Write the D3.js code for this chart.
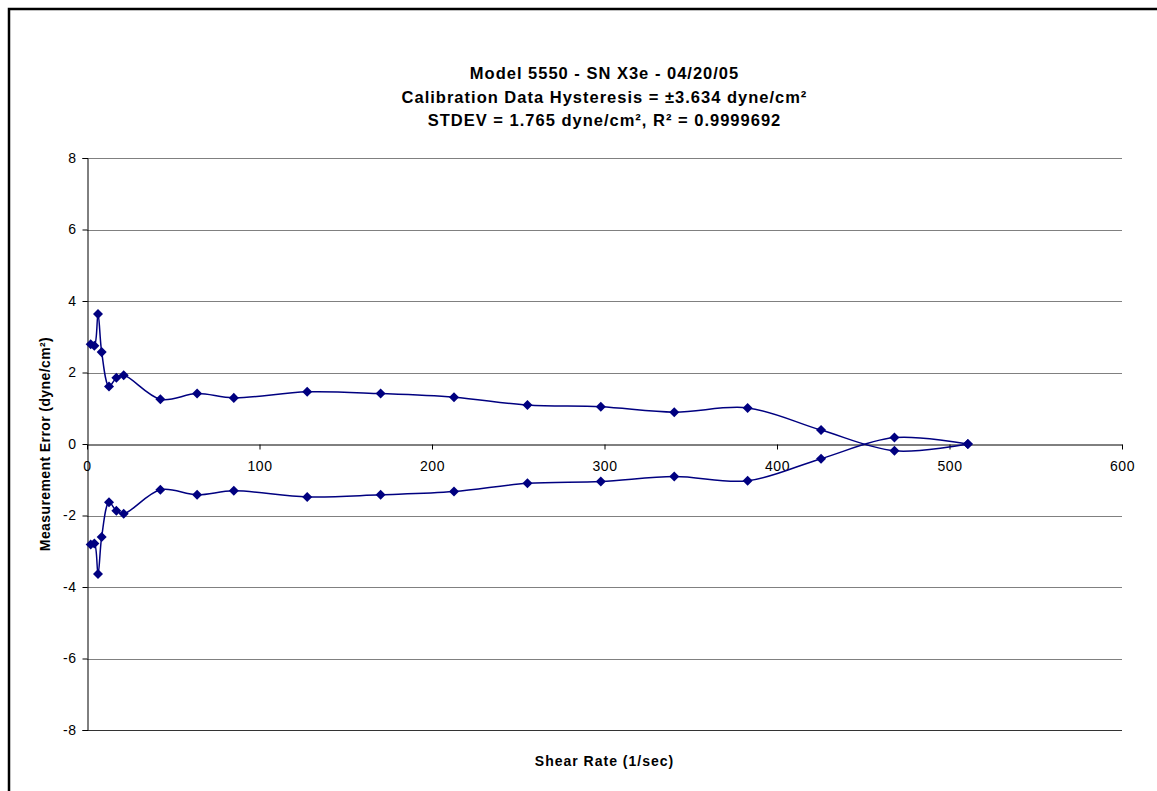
<!DOCTYPE html>
<html><head><meta charset="utf-8">
<script src="https://cdn.jsdelivr.net/npm/d3@7"></script>
<style>
body{margin:0;background:#fff;}
svg{display:block;font-family:"Liberation Sans",Arial,sans-serif;}
</style></head>
<body>
<svg id="c" width="1157" height="791"></svg>
<script>
const shearRate = [2.13, 4.26, 6.38, 8.51, 12.77, 17.02, 21.28, 42.55, 63.83, 85.11, 127.66, 170.21, 212.77, 255.32, 297.87, 340.43, 382.98, 425.53, 468.09, 510.64];
const upperError = [2.79, 2.75, 3.634, 2.57, 1.61, 1.85, 1.92, 1.25, 1.41, 1.29, 1.46, 1.41, 1.31, 1.09, 1.04, 0.89, 1.01, 0.39, -0.19, 0.0];
const lowerError = [-2.81, -2.78, -3.634, -2.60, -1.63, -1.87, -1.95, -1.28, -1.42, -1.31, -1.48, -1.42, -1.33, -1.10, -1.05, -0.91, -1.03, -0.41, 0.18, 0.0];
const xTicks = [0, 100, 200, 300, 400, 500, 600];
const yTicks = [-8, -6, -4, -2, 0, 2, 4, 6, 8];
const titleLines = ["Model 5550 - SN X3e - 04/20/05", "Calibration Data Hysteresis = \u00b13.634 dyne/cm\u00b2", "STDEV = 1.765 dyne/cm\u00b2, R\u00b2 = 0.9999692"];

const svg = d3.select("#c");
const L = 87, R = 1122, T = 158, B = 730;
const x = d3.scaleLinear().domain([0, 600]).range([L, R]);
const y = d3.scaleLinear().domain([-8, 8]).range([B, T]);
const FONT = "Liberation Sans, Arial, sans-serif";

// outer frame (left + top visible)
svg.append("path").attr("d", "M9,791 L9,9 L1157,9").attr("fill", "none").attr("stroke", "#000").attr("stroke-width", 2.5);

// gridlines
svg.append("g").selectAll("line").data(yTicks.filter(v => v !== 0)).join("line")
  .attr("x1", L).attr("x2", R).attr("y1", d => Math.round(y(d)) + 0.5).attr("y2", d => Math.round(y(d)) + 0.5)
  .attr("stroke", d => d === -8 ? "#333" : "#808080").attr("stroke-width", 1);

// y axis
const yAxis = svg.append("g").attr("transform", `translate(${L + 0.5},0)`)
  .call(d3.axisLeft(y).tickValues(yTicks).tickSize(5).tickPadding(6).tickFormat(d => String(d)));
yAxis.select(".domain").attr("stroke", "#000");
yAxis.selectAll("line").attr("stroke", "#000");
yAxis.selectAll("text").attr("font-size", 14).attr("letter-spacing", 0.5).attr("fill", "#000").attr("font-family", FONT);

// x axis at y=0
const xAxis = svg.append("g").attr("transform", `translate(0,${Math.round(y(0)) + 0.5})`)
  .call(d3.axisBottom(x).tickValues(xTicks).tickSize(5).tickPadding(12).tickSizeOuter(0).tickFormat(d => String(d)));
xAxis.select(".domain").attr("stroke", "#000");
xAxis.selectAll("line").attr("stroke", "#000");
xAxis.selectAll("text").attr("font-size", 14).attr("letter-spacing", 0.5).attr("fill", "#000").attr("font-family", FONT);

// series
const line = d3.line().x(d => x(d[0])).y(d => y(d[1])).curve(d3.curveCatmullRom.alpha(0.5));
const color = "#000080";
[upperError, lowerError].forEach(vals => {
  const pts = shearRate.map((s, i) => [s, vals[i]]);
  svg.append("path").datum(pts).attr("d", line).attr("fill", "none").attr("stroke", color).attr("stroke-width", 1.5);
  svg.append("g").selectAll("path").data(pts).join("path")
    .attr("d", d3.symbol().type(d3.symbolDiamond2).size(64)())
    .attr("transform", d => `translate(${x(d[0])},${y(d[1])})`)
    .attr("fill", color);
});

// titles
const tg = svg.append("g").attr("font-weight", "bold").attr("font-size", 16.5).attr("letter-spacing", 1)
  .attr("text-anchor", "middle").attr("fill", "#000");
titleLines.forEach((t, i) => tg.append("text").attr("x", (L + R) / 2).attr("y", 79 + i * 23.5).text(t));

svg.append("text").attr("x", (L + R) / 2).attr("y", 766).attr("text-anchor", "middle")
  .attr("font-weight", "bold").attr("font-size", 14).attr("letter-spacing", 1).text("Shear Rate (1/sec)");
svg.append("text").attr("transform", `translate(50,${y(0)}) rotate(-90)`).attr("text-anchor", "middle")
  .attr("font-weight", "bold").attr("font-size", 14).attr("letter-spacing", 0.4).text("Measurement Error (dyne/cm\u00b2)");
</script>
</body></html>
